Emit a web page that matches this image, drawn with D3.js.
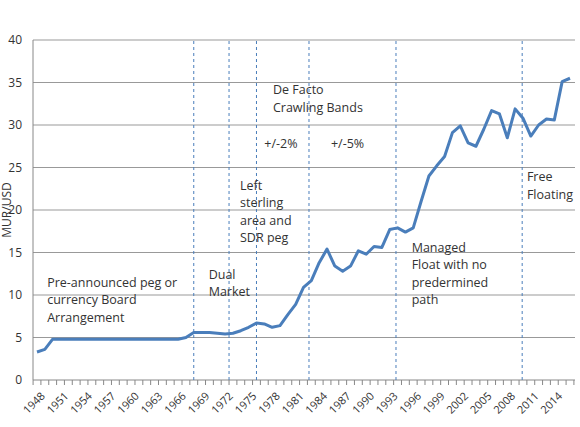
<!DOCTYPE html>
<html><head><meta charset="utf-8">
<script src="https://cdn.jsdelivr.net/npm/d3@7"></script>
<style>body{margin:0;background:#fff}text{font-family:"Open Sans",sans-serif;fill:#333}</style>
</head><body><div id="chart"></div>
<script>
const years = d3.range(1948, 2017);
const rates = [3.3, 3.6, 4.8, 4.8, 4.8, 4.8, 4.8, 4.8, 4.8, 4.8, 4.8, 4.8, 4.8, 4.8, 4.8, 4.8, 4.8, 4.8, 4.8, 5.0,
  5.6, 5.6, 5.6, 5.5, 5.4, 5.5, 5.8, 6.2, 6.7, 6.6, 6.2, 6.4, 7.7, 8.9, 10.9, 11.7, 13.8, 15.4, 13.4, 12.8,
  13.4, 15.2, 14.8, 15.7, 15.6, 17.7, 17.9, 17.4, 17.9, 21.0, 24.0, 25.2, 26.3, 29.1, 29.9, 27.9, 27.5, 29.5,
  31.7, 31.3, 28.5, 31.9, 30.8, 28.7, 30.0, 30.7, 30.6, 35.1, 35.5];
const tickYears = d3.range(1948, 2016, 3);
const regimeBreaks = [1968, 1972.5, 1976, 1982.7, 1993.8, 2009.9];
const annotations = [
  {year: 1949.3, value: 11.0, lines: ["Pre-announced peg or", "currency Board", "Arrangement"]},
  {year: 1969.9, value: 11.9, lines: ["Dual", "Market"]},
  {year: 1973.9, value: 22.4, lines: ["Left", "sterling", "area and", "SDR peg"]},
  {year: 1978.1, value: 33.6, lines: ["De Facto", "Crawling Bands"]},
  {year: 1977.0, value: 27.3, lines: ["+/-2%"]},
  {year: 1985.5, value: 27.3, lines: ["+/-5%"]},
  {year: 1995.8, value: 15.1, lines: ["Managed", "Float with no", "predermined", "path"]},
  {year: 2010.5, value: 23.4, lines: ["Free", "Floating"]}
];

const svg = d3.select("#chart").append("svg").attr("width", 580).attr("height", 427);
const x = d3.scaleLinear().domain([1948, 2016]).range([37, 570]);
const y = d3.scaleLinear().domain([0, 40]).range([380, 40]);
const left = 33, right = 575;

// gridlines
svg.append("g").selectAll("line").data(d3.range(5, 45, 5)).join("line")
  .attr("x1", left).attr("x2", right).attr("y1", d => y(d)).attr("y2", d => y(d))
  .attr("stroke", "#999").attr("stroke-width", 1);

// axes
svg.append("line").attr("x1", left).attr("x2", left).attr("y1", y(0)).attr("y2", y(40)).attr("stroke", "#888");
svg.append("line").attr("x1", left).attr("x2", right).attr("y1", y(0)).attr("y2", y(0)).attr("stroke", "#888");
svg.append("g").selectAll("line").data(d3.range(1947.5, 2017.5, 1)).join("line")
  .attr("x1", d => x(d)).attr("x2", d => x(d)).attr("y1", y(0)).attr("y2", y(0) + 5).attr("stroke", "#888");
svg.append("g").selectAll("text").data(d3.range(0, 45, 5)).join("text")
  .attr("x", 22).attr("y", d => y(d)).attr("dy", "0.35em").attr("text-anchor", "end")
  .style("font-size", "12px").text(d => d);
svg.append("g").selectAll("text").data(tickYears).join("text")
  .attr("transform", d => `translate(${x(d) + 4},${y(0) + 12}) rotate(-45)`)
  .attr("text-anchor", "end").attr("dy", "0.6em").style("font-size", "11px").text(d => d);
svg.append("text").attr("transform", `translate(11,${y(20)}) rotate(-90)`)
  .attr("text-anchor", "middle").style("font-size", "12px").text("MUR/USD");

// regime breaks
svg.append("g").selectAll("line").data(regimeBreaks).join("line")
  .attr("x1", d => x(d)).attr("x2", d => x(d)).attr("y1", y(0)).attr("y2", y(40))
  .attr("stroke", "#4a7ebb").attr("stroke-dasharray", "3,3").attr("stroke-width", 1);

// series
svg.append("path").datum(years.map((yr, i) => [yr, rates[i]]))
  .attr("fill", "none").attr("stroke", "#4a7ebb").attr("stroke-width", 3)
  .attr("stroke-linejoin", "round")
  .attr("d", d3.line().x(d => x(d[0])).y(d => y(d[1])));

// annotations
const ann = svg.append("g").selectAll("text").data(annotations).join("text")
  .attr("x", d => x(d.year)).attr("y", d => y(d.value)).style("font-size", "12.5px");
ann.selectAll("tspan").data(d => d.lines.map(l => ({l, x: x(d.year)}))).join("tspan")
  .attr("x", d => d.x).attr("dy", (d, i) => i ? 17.5 : 0).text(d => d.l);
</script></body></html>
